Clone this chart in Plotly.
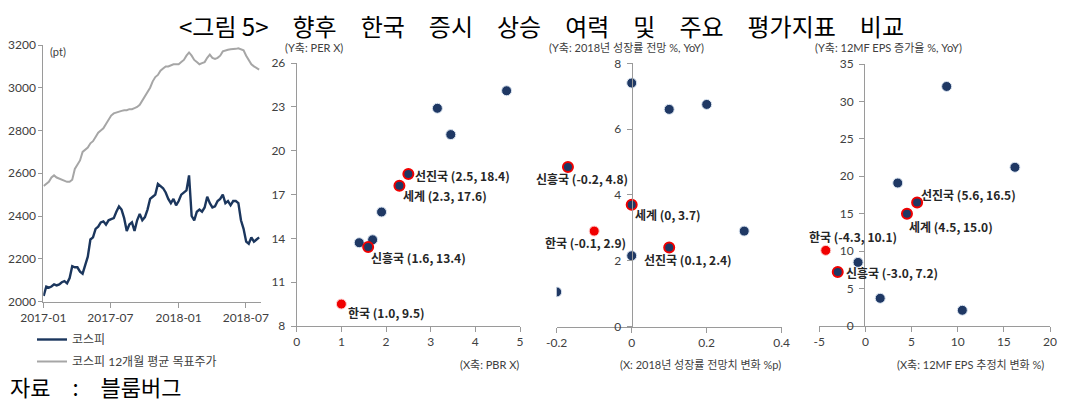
import plotly.graph_objects as go
import pandas as pd

W, H = 1066, 405
OFF = 8  # the page body adds an 8px margin, so layout positions are offset by it

# ---------------- Panel 1: KOSPI vs target (weekly readings) ----------------
weeks = pd.date_range("2017-01-02", "2018-08-06", freq="W-MON")
kospi = [
    2026, 2070, 2065, 2070, 2080,
    2075, 2080, 2090, 2095,
    2085, 2110, 2165, 2160,
    2160, 2140, 2130, 2170,
    2210, 2290, 2300, 2340, 2350,
    2370, 2375, 2360, 2380,
    2385, 2390, 2420, 2445, 2430,
    2390, 2330, 2360, 2370,
    2330, 2380, 2410, 2380,
    2395, 2430, 2480, 2490, 2500,
    2550, 2540, 2530, 2510,
    2480, 2460, 2480, 2450,
    2470, 2500, 2510, 2520, 2590,
    2400, 2380, 2420, 2430,
    2420, 2440, 2490, 2460,
    2440, 2445, 2470, 2480, 2500,
    2460, 2470, 2450, 2470,
    2470, 2460, 2380, 2340,
    2280, 2270, 2300, 2280, 2290,
    2300,
]
target = [
    2540, 2550, 2560, 2580, 2590,
    2580, 2575, 2570, 2565,
    2560, 2560, 2570, 2620,
    2640, 2660, 2700, 2710,
    2720, 2740, 2750, 2770, 2790,
    2800, 2810, 2830, 2850,
    2870, 2880, 2885, 2890, 2892,
    2895, 2895, 2900, 2900,
    2905, 2910, 2920, 2940,
    2960, 2980, 3000, 3030, 3050,
    3060, 3080, 3090, 3100,
    3100, 3105, 3110, 3110,
    3110, 3120, 3130, 3150, 3165,
    3150, 3130, 3120, 3110,
    3115, 3120, 3140, 3155,
    3140, 3135, 3140, 3150, 3170,
    3175, 3178, 3180, 3180,
    3182, 3185, 3180, 3175,
    3150, 3130, 3110, 3100, 3092,
    3085,
]
line_names = ["코스피", "코스피 12개월 평균 목표주가"]
p1_ticks = ["2017-01-01", "2017-07-01", "2018-01-01", "2018-07-01"]
p1_ticktext = ["2017-01", "2017-07", "2018-01", "2018-07"]

# ---------------- Scatter panels ----------------
hl_names = ["한국", "신흥국", "세계", "선진국"]

# Panel 2: PBR (x) vs PER (y)
p2_x = [1.4, 1.7, 1.9, 3.15, 3.45, 4.7]
p2_y = [13.7, 13.9, 15.8, 22.9, 21.1, 24.1]
p2_hx = [1.0, 1.6, 2.3, 2.5]
p2_hy = [9.5, 13.4, 17.6, 18.4]
p2_lab = ["한국 (1.0, 9.5)", "신흥국 (1.6, 13.4)", "세계 (2.3, 17.6)", "선진국 (2.5, 18.4)"]
p2_xticks = [0, 1, 2, 3, 4, 5]
p2_yticks = [8, 11, 14, 17, 20, 23, 26]

# Panel 3: change of 2018 growth forecast (x) vs growth forecast (y)
p3_x = [0.0, 0.1, 0.2, 0.3, 0.0, -0.2]
p3_y = [7.4, 6.6, 6.75, 2.9, 2.15, 1.05]
p3_hx = [-0.1, -0.17, 0.0, 0.1]
p3_hy = [2.9, 4.85, 3.7, 2.4]
p3_lab = ["한국 (-0.1, 2.9)", "신흥국 (-0.2, 4.8)", "세계 (0, 3.7)", "선진국 (0.1, 2.4)"]
p3_xticks = [-0.2, 0, 0.2, 0.4]
p3_xticktext = ["-0.2", "0", "0.2", "0.4"]
p3_yticks = [0, 2, 4, 6, 8]

# Panel 4: 12MF EPS revision (x) vs 12MF EPS growth (y)
p4_x = [-0.8, 1.6, 3.5, 8.8, 10.5, 16.2]
p4_y = [8.5, 3.7, 19.1, 32.0, 2.1, 21.2]
p4_hx = [-4.3, -3.0, 4.5, 5.6]
p4_hy = [10.1, 7.2, 15.0, 16.5]
p4_lab = ["한국 (-4.3, 10.1)", "신흥국 (-3.0, 7.2)", "세계 (4.5, 15.0)", "선진국 (5.6, 16.5)"]
p4_xticks = [-5, 0, 5, 10, 15, 20]
p4_xticktext = ["-5", "0", "5", "10", "15", "20"]
p4_yticks = [0, 5, 10, 15, 20, 25, 30, 35]

NAVY = "#1F3864"
RED = "#F00000"
GREY = "#A6A6A6"
AX = "#9A9A9A"
TXT = "#404040"
KFONT = "Lato, Noto Sans CJK KR, sans-serif"
KBOLD = "Noto Sans CJK KR, sans-serif"


def px(v):
    return (v - OFF) / W


def py(v):
    return 1 - (v - OFF) / H


fig = go.Figure()

fig.add_trace(go.Scatter(x=weeks, y=kospi, mode="lines", name=line_names[0], legendgroup="a",
                         line=dict(color="#1B365D", width=2.4), xaxis="x", yaxis="y"))
fig.add_trace(go.Scatter(x=weeks, y=target, mode="lines", name=line_names[1], legendgroup="b",
                         line=dict(color=GREY, width=2), xaxis="x", yaxis="y"))

hl_marker = dict(size=10, color=[RED, NAVY, NAVY, NAVY],
                 line=dict(color=["#FFD0D0", RED, RED, RED], width=[1, 2, 2, 2]))
base_marker = dict(size=10, color=NAVY, line=dict(color="#DCE6F2", width=1))

for i, (bx, by, hx, hy) in enumerate([(p2_x, p2_y, p2_hx, p2_hy),
                                       (p3_x, p3_y, p3_hx, p3_hy),
                                       (p4_x, p4_y, p4_hx, p4_hy)]):
    n = str(i + 2)
    fig.add_trace(go.Scatter(x=bx, y=by, mode="markers", marker=base_marker,
                             showlegend=False, xaxis="x" + n, yaxis="y" + n))
    fig.add_trace(go.Scatter(x=hx, y=hy, mode="markers", marker=hl_marker, text=hl_names,
                             showlegend=False, xaxis="x" + n, yaxis="y" + n))

tickfont = dict(family=KFONT, size=12, color=TXT)
axcommon = dict(showgrid=False, zeroline=False, showline=True, linecolor=AX, linewidth=1,
                ticks="outside", tickcolor=AX, ticklen=5, tickfont=tickfont,
                fixedrange=True, automargin=False)
ycommon = dict(axcommon, ticklabelstandoff=3)

layout = dict(
    template="none",
    width=W, height=H, margin=dict(l=0, r=0, t=0, b=0, pad=0, autoexpand=False),
    paper_bgcolor="white", plot_bgcolor="white",
    showlegend=True,
    legend=dict(x=px(32), y=py(325), xanchor="left", yanchor="top",
                font=dict(family=KFONT, size=12, color=TXT), bgcolor="rgba(0,0,0,0)",
                tracegroupgap=3, itemwidth=30, borderwidth=0),
    xaxis=dict(domain=[px(43.3), px(261)], range=["2017-01-01", "2018-08-11"], type="date",
               tickvals=p1_ticks, ticktext=p1_ticktext, anchor="y", **axcommon),
    yaxis=dict(domain=[py(301.5), py(45)], range=[2000, 3200], dtick=200, anchor="x",
               **dict(axcommon, ticklen=4, ticklabelstandoff=0)),
    xaxis2=dict(domain=[px(296.7), px(520)], range=[0, 5], tickvals=p2_xticks, anchor="y2",
                **axcommon),
    yaxis2=dict(domain=[py(326), py(63)], range=[8, 26], tickvals=p2_yticks, anchor="x2",
                **ycommon),
    xaxis3=dict(domain=[px(556.7), px(781.7)], range=[-0.2, 0.4], tickvals=p3_xticks,
                ticktext=p3_xticktext, anchor="y3", **axcommon),
    yaxis3=dict(domain=[py(326.5), py(63.3)], range=[0, 8], tickvals=p3_yticks,
                anchor="free", position=px(631.7), **ycommon),
    xaxis4=dict(domain=[px(819.3), px(1050)], range=[-5, 20], tickvals=p4_xticks,
                ticktext=p4_xticktext, anchor="y4", **axcommon),
    yaxis4=dict(domain=[py(326), py(64)], range=[0, 35], tickvals=p4_yticks,
                anchor="free", position=px(864), **ycommon),
)
fig.update_layout(**layout)

annots = []
# title
annots.append(dict(text="<그림 5>\u3000향후\u3000한국\u3000증시\u3000상승\u3000여력\u3000및\u3000주요\u3000평가지표\u3000비교",
                   x=px(541), y=py(26), xref="paper", yref="paper", showarrow=False,
                   xanchor="center", yanchor="middle",
                   font=dict(family=KBOLD, size=24, color="#000000")))
# source
annots.append(dict(text="자료\u3000:\u3000블룸버그", x=px(8), y=py(386), xref="paper",
                   yref="paper", showarrow=False, xanchor="left", yanchor="middle",
                   font=dict(family=KBOLD, size=22, color="#000000")))

small = dict(family=KFONT, size=11, color=TXT)
axis_titles = [
    ("(pt)", 48, 51, "left"),
    ("(Y축: PER X)", 283, 47, "left"),
    ("(Y축: 2018년 성장률 전망 %, YoY)", 547, 47, "left"),
    ("(Y축: 12MF EPS 증가율 %, YoY)", 813, 47, "left"),
    ("(X축: PBR X)", 521, 364, "right"),
    ("(X: 2018년 성장률 전망치 변화 %p)", 783, 364, "right"),
    ("(X축: 12MF EPS 추정치 변화 %)", 1046, 364, "right"),
]
for t, xx, yy, anc in axis_titles:
    annots.append(dict(text=t, x=px(xx), y=py(yy), xref="paper", yref="paper",
                       showarrow=False, xanchor=anc, yanchor="middle", font=small))

bold = dict(family=KBOLD, size=12, color="#262626")
# label offsets (pixels) relative to each highlighted point: (xanchor, xshift, yshift)
offs = {
    "2": [("left", 5, -8), ("left", 1, -10), ("left", 2, -10), ("left", 5, -1)],
    "3": [("center", -9, -11), ("center", 14, -12), ("left", 1, -10), ("left", -27, -12)],
    "4": [("left", -19, 14), ("left", 6, 0), ("left", 0, -13), ("left", 2, 8)],
}
for n, hx, hy, labs in [("2", p2_hx, p2_hy, p2_lab), ("3", p3_hx, p3_hy, p3_lab),
                        ("4", p4_hx, p4_hy, p4_lab)]:
    for j in range(4):
        anc, xs, ys = offs[n][j]
        annots.append(dict(text="<b>" + labs[j] + "</b>", x=hx[j], y=hy[j], xref="x" + n,
                           yref="y" + n, showarrow=False, xanchor=anc, yanchor="middle",
                           xshift=xs, yshift=ys, font=bold))

fig.update_layout(annotations=annots)
fig.write_html("out.html")
